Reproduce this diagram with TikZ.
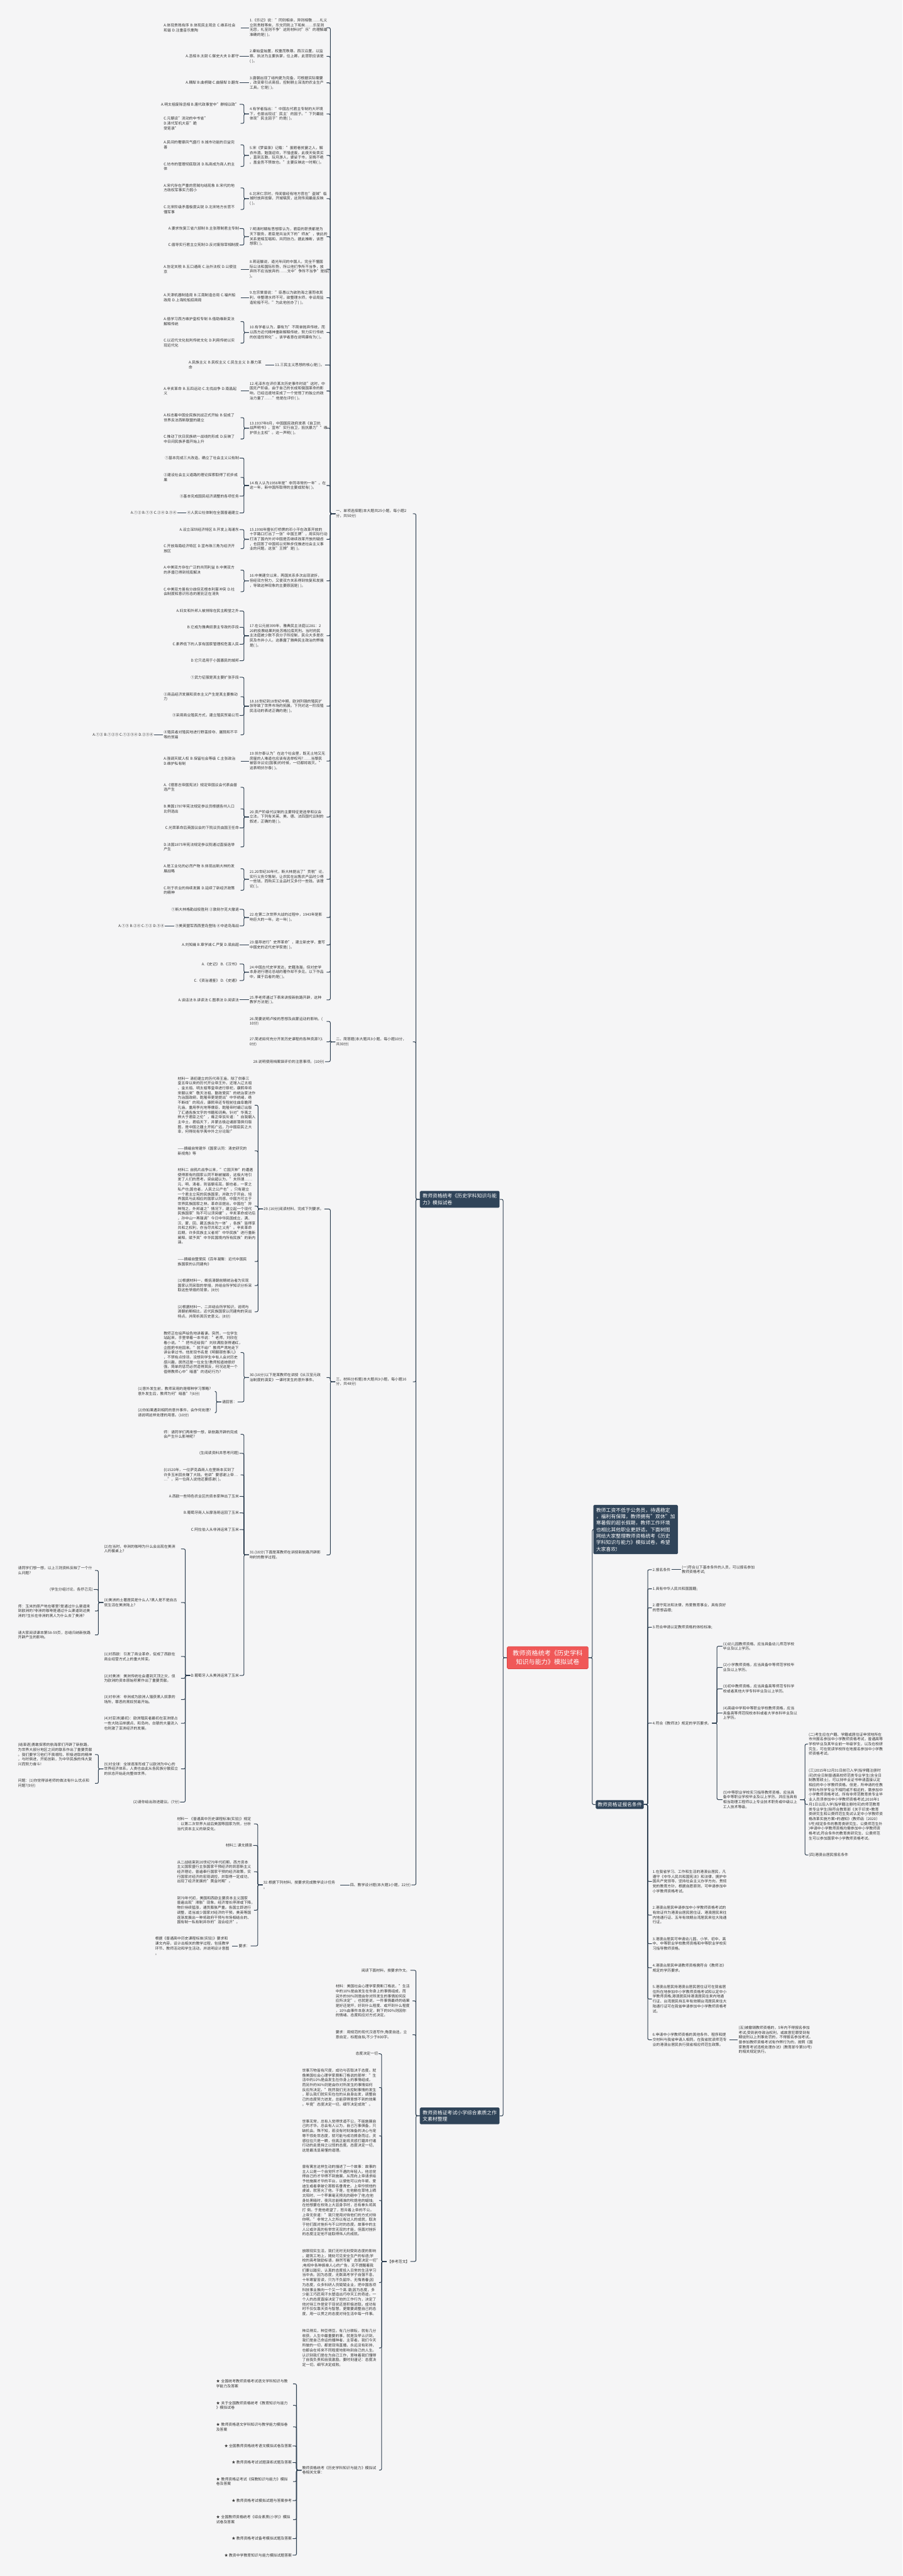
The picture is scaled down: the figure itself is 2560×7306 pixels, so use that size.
\documentclass[tikz,border=0pt]{standalone}
\usepackage{fontspec}
\setmainfont{Noto Sans CJK SC}
\definecolor{bgc}{RGB}{245,245,246}
\definecolor{lnc}{RGB}{44,62,80}
\definecolor{txc}{RGB}{51,51,51}
\definecolor{dkc}{RGB}{48,68,89}
\definecolor{rdc}{RGB}{240,88,88}
\definecolor{rdb}{RGB}{222,70,70}
\newcommand\fsA{\fontsize{10.5pt}{13.7pt}\selectfont}
\newcommand\fsB{\fontsize{14pt}{18.4pt}\selectfont}
\newcommand\fsC{\fontsize{18pt}{24pt}\selectfont}
\tikzset{
 txt/.style={font=\fsA, align=left, inner sep=2pt, text=txc},
 mw/.style={text width=216pt},
 dk/.style={font=\fsB, align=left, fill=dkc, text=white, rounded corners=3pt, inner xsep=8pt, inner ysep=8pt},
 rt/.style={font=\fsC, align=center, fill=rdc, draw=rdb, line width=1pt, text=white, rounded corners=3pt, inner xsep=16pt, inner ysep=11pt},
 ln/.style={draw=lnc, line width=1.8pt, rounded corners=4pt}
}
\newcommand\TW[4]{\node[txt,mw,anchor=west] (#1) at (#2,#3) {#4};}
\newcommand\TS[4]{\node[txt,anchor=west] (#1) at (#2,#3) {#4};}
\newcommand\TE[4]{\node[txt,anchor=east] (#1) at (#2,#3) {#4};}
\newcommand\LE[2]{\draw[ln] (#1.west) -- ++(-14,0) |- (#2.east);}
\newcommand\RE[2]{\draw[ln] (#1.east) -- ++(14,0) |- (#2.west);}
\newcommand\LK[2]{\draw[ln] (#1.west) -- ++(-11,0) |- (#2.east);}
\newcommand\RK[2]{\draw[ln] (#1.east) -- ++(11,0) |- (#2.west);}
\newcommand\SL[2]{\draw[ln] (#1.west) -- (#1.west -| #2.east);}
\newcommand\SR[2]{\draw[ln] (#1.east) -- (#1.east -| #2.west);}
\begin{document}
\begin{tikzpicture}[x=1pt,y=-1pt]
\fill[bgc] (0,0) rectangle (2560,7306);
\useasboundingbox (0,0) rectangle (2560,7306);
% main boxes
\node[rt] (root) at (1553.5,4701.5) {教师资格统考《历史学科\\知识与能力》模拟试卷};
\node[dk] (lishi) at (1304,3401.5) {教师资格统考《历史学科知识与能\\力》模拟试卷};
\node[dk] (zw) at (1304,6001) {教师资格证考试小学综合素质之作\\文素材整理};
\node[dk] (intro) at (1803,4338) {教师工资不低于公务员，待遇稳定\\，福利有保障，教师拥有"双休"加\\寒暑假的超长假期，教师工作环境\\也相比其他职业更舒适。下面树图\\网给大家整理教师资格统考《历史\\学科知识与能力》模拟试卷，希望\\大家喜欢!};
\node[dk,inner xsep=5pt,inner ysep=6pt] (bm) at (1758,5118) {教师资格证报名条件};
% section headers
\TW{h1}{951}{1457}{一、单项选择题(本大题共25小题，每小题2\\分，共50分)}
\TW{h2}{951}{2955}{二、简答题(本大题共3小题，每小题10分，\\共30分)}
\TW{h3}{951}{3919}{三、材料分析题(本大题共3小题，每小题16\\分，共48分)}
\TE{h4}{1167}{5346}{四、教学设计题(本大题1小题，22分)}
% questions 1-25
\TW{q1}{706}{78.5}{1.《乐记》说："同则相亲，异则相敬……礼义\\立则贵贱等矣，乐文同则上下和矣……乐至则\\无怨，礼至则不争"这则材料对"乐"的理解最\\准确的是( )。}
\TW{o1}{462}{78.5}{A.体现贵贱有序 B.体现民主观念 C.维系社会\\和谐 D.注重音乐熏陶}
\TW{q2}{706}{160}{2.秦始皇始置，权重而秩尊。西汉沿置，以监\\察、执法为主要执掌，位上卿。此官职应该是\\( )。}
\TE{o2}{680}{160}{A.丞相 B.太尉 C.御史大夫 D.郡守}
\TW{q3}{706}{235}{3.唐朝出现了结构更为完备，可根据实际需要\\，改变牵引点高低，控制耕土深浅的农业生产\\工具。它是( )。}
\TE{o3}{680}{235}{A.耦犁 B.曲柄锄 C.曲辕犁 D.翻车}
\TW{q4}{706}{323}{4.有学者指出："中国古代君主专制的大环境\\下，也曾出现过'民主'的因子。"下列最能\\体现"民主因子"的是( )。}
\TE{o4a}{680}{296}{A.明太祖废除丞相 B.唐代政事堂中"群相议政"}
\TW{o4b}{462}{350}{C.元朝设"流动的中书省" D.清代军机大臣"跪\\受笔录"}
\TW{q5}{706}{441}{5.宋《梦粱录》记载："虽陋巷贫窭之人，解\\衣市酒，勉强迎欢，不惜虚废。此夜天街卖买\\，直到五鼓，玩月游人，婆娑于市，至晚不绝\\。盖金吾不禁故也。"主要反映这一时期( )。}
\TW{o5a}{462}{411}{A.民间的奢靡风气盛行 B.城市功能的日益完\\善}
\TW{o5b}{462}{472}{C.坊市的管理彻底取消 D.私商成为商人的主\\体}
\TW{q6}{706}{563.5}{6.北宋仁宗时，传闻曾经有地方官在"盗贼"临\\城时放弃抵御，开城犒赏，这则传闻最能反映\\( )。}
\TW{o6a}{462}{533}{A.宋代存在严重的官贼勾结现象 B.宋代的地\\方政权军事实力弱小}
\TW{o6b}{462}{594}{C.北宋阶级矛盾极度尖锐 D.北宋地方长官不\\懂军事}
\TW{q7}{706}{671.5}{7.明清时期有思想家认为，君臣的职责都是为\\天下服务，君臣是共治天下的"师友"，彼此的\\关系是相互唱和、共同协力。据此推断，该思\\想家( )。}
\TE{o7a}{680}{648}{A.要求恢复三省六部制 B.主张限制君主专制}
\TE{o7b}{680}{695}{C.倡导实行君主立宪制 D.反对废除宰相制度}
\TW{q8}{706}{763.5}{8.蒋廷黻说，道光年间的中国人，完全不懂国\\际公法和国际形势，所以他们争所不当争，放\\弃所不应当放弃的……文中"争所不当争"是指(\\ )。}
\TW{o8}{462}{763.5}{A.协定关税 B.五口通商 C.治外法权 D.公使驻\\京}
\TW{q9}{706}{844.5}{9.左宗棠曾说："臣愚以为欲防海之害而收其\\利，非整理水师不可，欲整理水师，非设局监\\造轮船不可。"为此他创办了( )。}
\TW{o9}{462}{844.5}{A.天津机器制造局 B.江南制造总局 C.福州船\\政局 D.上海轮船招商局}
\TW{q10}{706}{943}{10.有学者认为，康有为"不简单抛弃传统，而\\以西方近代精神重新解释传统，努力实行传统\\的创造性转化"。该学者意在说明康有为( )。}
\TW{o10a}{462}{912}{A.借学习西方维护皇权专制 B.借助维新变法\\解释传统}
\TW{o10b}{462}{973}{C.以近代文化批判传统文化 D.利用传统以实\\现近代化}
\TE{q11}{922}{1035}{11.三民主义思想的核心是( )。}
\TW{o11}{533}{1035}{A.民族主义 B.民权主义 C.民生主义 D.暴力革\\命}
\TW{q12}{706}{1109}{12.毛泽东在评价某次历史事件时说"这时，中\\国无产阶级，由于自己的长成和俄国革命的影\\响，已经迅速地变成了一个觉悟了的独立的政\\治力量了……"他是在评价( )。}
\TW{o12}{462}{1109}{A.辛亥革命 B.五四运动 C.北伐战争 D.南昌起\\义}
\TW{q13}{706}{1214.5}{13.1937年8月，中国国民政府发表《自卫抗\\战声明书》，宣布"实行自卫，抵抗暴力""维\\护领土主权"。这一声明( )。}
\TW{o13a}{462}{1184.5}{A.标志着中国全民族抗战正式开始 B.促成了\\世界反法西斯联盟的建立}
\TW{o13b}{462}{1245}{C.推动了抗日民族统一战线的形成 D.反映了\\中日间民族矛盾开始上升}
\TW{q14}{706}{1377}{14.有人认为1956年是"非同寻常的一年"。在\\这一年，新中国所取得的主要成就有( )。}
\TE{o14a}{680}{1299}{①基本完成三大改造，确立了社会主义公有制}
\TW{o14b}{462}{1354}{②建设社会主义道路的理论探索取得了初步成\\果}
\TE{o14c}{680}{1407}{③基本完成国民经济调整的各项任务}
\TE{o14d}{680}{1455}{④人民公社体制在全国普遍建立}
\TE{o14s}{503}{1455}{A.①② B.①③ C.②④ D.③④}
\TW{q15}{706}{1529.5}{15.1990年擅长打桥牌的邓小平在改革开放的\\十字路口打出了一张"中国王牌"，用实际行动\\打消了国内外对中国是否继续改革开放的疑虑\\，也回答了中国将以何种步伐推进社会主义事\\业的问题。这张"王牌"是( )。}
\TE{o15a}{680}{1502}{A.设立深圳经济特区 B.开发上海浦东}
\TW{o15b}{462}{1556}{C.开放海南经济特区 D.宣布珠三角为经济开\\放区}
\TW{q16}{706}{1647.5}{16.中美建交以来，两国关系多次出现波折，\\但经双方努力，又使双方关系得到恢复和发展\\，导致这种现象的主要原因是( )。}
\TW{o16a}{462}{1617}{A.中美双方存在广泛的共同利益 B.中美双方\\的矛盾已得到彻底解决}
\TW{o16b}{462}{1678}{C.中美双方虽有分歧但无根本利害冲突 D.社\\会制度和意识形态的差别正在消失}
\TW{q17}{706}{1803}{17.在公元前399年，雅典民主法庭以281：2\\20的投票结果判处苏格拉底死刑。当时的民\\主法庭被少数不良分子所控制，民众大多是农\\民及市井小人。这暴露了雅典民主政治的弊端\\是( )。}
\TE{o17a}{680}{1733}{A.妇女和外邦人被排除在民主殿堂之外}
\TE{o17b}{680}{1779}{B.它成为雅典奴隶主专政的手段}
\TE{o17c}{680}{1827}{C.素养低下的人享有国家管理权危害人民}
\TE{o17d}{680}{1874}{D.它只适用于小国寡民的城邦}
\TW{q18}{706}{2003}{18.16世纪到18世纪中期，欧洲列强的殖民扩\\张导致了世界市场的拓展。下列对这一阶段殖\\民活动的表述正确的是( )。}
\TE{o18a}{680}{1921}{①武力征服是其主要扩张手段}
\TW{o18b}{462}{1976}{②商品经济发展和资本主义产生是其主要推动\\力}
\TE{o18c}{680}{2029}{③采用商业殖民方式，建立殖民贸易公司}
\TW{o18d}{462}{2084}{④殖民者对殖民地进行野蛮掠夺、屠戮和不平\\等的贸易}
\TE{o18s}{437}{2084}{A.①② B.①②③ C.①②③④ D.②③④}
\TW{q19}{706}{2158.5}{19.伏尔泰认为"在这个社会里，既无土地又无\\房屋的人难道也应该有选举权吗?……当黎民\\被容许议论(国事)的时候，一切都将毁灭。"\\这表明伏尔泰( )。}
\TW{o19}{462}{2158.5}{A.强调天赋人权 B.保留社会等级 C.主张政治\\D.维护私有制}
\TW{q20}{706}{2317}{20.资产阶级代议制的主要特征是选举和议会\\立法。下列有关英、美、德、法四国代议制的\\叙述，正确的是( )。}
\TW{o20a}{462}{2233}{A.《德意志帝国宪法》规定帝国议会代表由普\\选产生}
\TW{o20b}{462}{2294}{B.美国1787年宪法规定参议员根据各州人口\\比例选出}
\TE{o20c}{680}{2348}{C.光荣革命后英国议会的下院议员由国王任命}
\TW{o20d}{462}{2402}{D.法国1875年宪法规定参议院通过直接选举\\产生}
\TW{q21}{706}{2494}{21.20世纪30年代，斯大林提出了"贡税"论，\\实行义务交售制，让农民在出售农产品时少得\\一些钱，而购买工业品时又多付一些钱。该理\\论( )。}
\TW{o21a}{462}{2464}{A.是工业化的必然产物 B.体现出斯大林的发\\展战略}
\TW{o21b}{462}{2525}{C.利于农业的持续发展 D.延续了新经济政策\\的精神}
\TW{q22}{706}{2602}{22.在第二次世界大战的过程中，1943年是影\\响巨大的一年。这一年( )。}
\TE{o22a}{680}{2579}{①斯大林格勒战役胜利 ②敦刻尔克大撤退}
\TE{o22b}{680}{2626}{③美英盟军西西里岛登陆 ④中途岛海战}
\TE{o22s}{468}{2626}{A.①③ B.②④ C.①② D.③④}
\TW{q23}{706}{2680}{23.倡导进行"史界革命"，建立新史学，重写\\中国史的近代史学家是( )。}
\TE{o23}{680}{2680}{A.刘知幾 B.章学诚 C.严复 D.梁启超}
\TW{q24}{706}{2757.5}{24.中国古代史学发达，史籍浩瀚，但对史学\\本身进行理论总结的著作却不多见。以下作品\\中，属于后者的是( )。}
\TE{o24a}{680}{2734}{A.《史记》 B.《汉书》}
\TE{o24b}{680}{2781}{C.《资治通鉴》 D.《史通》}
\TW{q25}{706}{2836}{25.李老师通过下表来讲授新航路开辟，这种\\教学方法是( )。}
\TE{o25}{680}{2836}{A.谈话法 B.讲读法 C.图表法 D.阅读法}
% section 2
\TW{q26}{706}{2897}{26.简要说明卢梭的思想及启蒙运动的影响。(\\10分)}
\TW{q27}{706}{2955}{27.简述如何充分开发历史课程的各种资源?(1\\0分)}
\TE{q28}{922}{3011}{28.说明使用档案袋评价的注意事项。(10分)}
% section 3
\TE{q29}{920}{3429}{29.(16分)阅读材料，完成下列要求。}
\TW{p29a}{502}{3134.5}{材料一 清初建立的历代帝王庙，除了供奉三\\皇五帝以来的历代开业帝王外，还增入辽太祖\\、金太祖、明太祖等皇帝进行祭祀，康熙帝将\\宋朝以来"敬天法祖、勤政爱民"的统治家法作\\为治国政纲，乾隆帝更是提出"中华统绪，绝\\不断线"的观点，康熙帝还专程前往曲阜瞻拜\\孔庙，重用李光地等儒臣，乾隆帝时编订出版\\了汇通各族文字的书籍和词典。针对"华夷之\\辨大于君臣之伦"，雍正帝驳斥道："自我朝入\\主中土，君临天下，并蒙古极边诸部落俱归版\\图，是中国之疆土开拓广远，乃中国臣民之大\\幸，何得尚有华夷中外之分论哉!"}
\TW{p29b}{502}{3264}{——摘编自常建华《国家认同：清史研究的\\新视角》等}
\TW{p29c}{502}{3421}{材料二 自鸦片战争以来，"亡国灭种"的遭遇\\使得原有的国家认同不断被摧毁，这极大地引\\发了人们的思考。梁启超认为，"夫所谓……\\元、明、清者，则皆朝名耳。朝也者，一家之\\私产也;国也者，人民之公产也"，只有建立\\一个君主立宪的民族国家，并致力于开启、培\\养国民与此相应的国家认同感，中国方可立于\\世界民族国家之林。革命派提出，中国在"异\\种残之，外邦逼之"情况下，建立起一个现代\\民族国家"殆不可以须臾缓"。辛亥革命成功后\\，孙中山一再强调"今日中华民国成立，满、\\汉、蒙、回、藏五族合为一体"，各族"皆得享\\共和之权利，亦当尽共和之义务"。辛亥革命\\后期，许多民族主义者将"中华民族"进行重新\\阐释，赋予其"中华民国境内所有民族"的新内\\涵。}
\TW{p29d}{502}{3578}{——摘编自暨爱民《百年凝聚：近代中国民\\族国家的认同建构》}
\TW{p29e}{502}{3646}{(1)根据材料一，概括清朝前期统治者为实现\\国家认同采取的举措，并结合所学知识分析采\\取这些举措的背景。(8分)}
\TW{p29f}{502}{3720.5}{(2)根据材料一、二并结合所学知识，说明与\\清朝前期相比，近代民族国家认同建构的突出\\特点，并简析其历史意义。(8分)}
\TW{q30}{706}{3907}{30.(16分)以下是某教师在讲授《从汉至元政\\治制度的演变》一课时发生的意外事件。}
\TW{p30a}{462}{3836}{教师正在绘声绘色地讲着课。突然，一位学生\\站起来，手里举着一本书说："老师，刘欣在\\看小说。""把书还给我!"刘欣满脸涨得通红，\\企图把书抢回来。"就不给!"教师严肃地走下\\讲台拿过书。他发现书名是《明朝那些事儿》\\，不禁有点惊讶。没想到学生中有人会对历史\\感兴趣，居然还是一位女生!教师知道她很好\\强，简单的惩罚必然适得其反，何况这是一个\\值得教师心中"暗喜"的违纪行为?}
\TE{p30b}{674}{3976}{请回答：}
\TW{p30b1}{389}{3946}{(1)意外发生前，教师采用的是哪种学习策略?\\意外发生后，教师为何"暗喜"?(6分)}
\TW{p30b2}{389}{4007}{(2)你如果遇到相同的意外事件，会作何处理?\\请说明这样处理的用意。(10分)}
\TW{q31}{706}{4410}{31.(16分)下面是某教师在讲授新航路开辟影\\响时的教学过程。}
\TW{p31a}{462}{4068}{师：请同学们再来想一想，新航路开辟的完成\\会产生什么影响呢?}
\TE{p31b}{680}{4122}{(生阅读资料并思考问题)}
\TW{p31c}{462}{4183}{(I)1520年，一位萨克森商人在里斯本买到了\\许多玉米回去赚了大钱。他讲"要感谢上帝…\\…"，另一位商人说他还要感谢( )。}
\TE{p31d}{680}{4244}{A.西欧一些特色农业区的资本家种出了玉米}
\TE{p31e}{680}{4291}{B.葡萄牙商人从摩洛哥运回了玉米}
\TE{p31f}{680}{4338}{C.阿拉伯人从非洲运来了玉米}
\TE{p31g}{680}{4752}{D.葡萄牙人从美洲运来了玉米}
\TW{g1}{293}{4393}{(2)在当时，非洲的咖啡为什么会出现在美洲\\人的餐桌上?}
\TW{g2}{293}{4545}{(3)美洲的土著居民是什么人?黑人是不是自古\\就生活在美洲陆上?}
\TW{g2a}{49}{4454}{请同学们想一想，以上三则资料反映了一个什\\么问题?}
\TE{g2b}{266}{4508}{(学生分组讨论，各抒己见)}
\TW{g2c}{49}{4569}{师：玉米的原产地在哪里?是通过什么渠道来\\到欧洲的?非洲的咖啡是通过什么渠道到达美\\洲的?生长在非洲的黑人为什么去了美洲?}
\TW{g2d}{49}{4637}{请大家阅读课本第58-59页，总结归纳新航路\\开辟产生的影响。}
\TW{g3}{293}{4698}{(1)对西欧：引发了商业革命，促成了西欧在\\商业经营方式上的重大转变。}
\TW{g4}{293}{4760}{(2)对美洲：美洲传统社会遭到灭顶之灾，但\\为欧洲的资本原始积累作出了重要贡献。}
\TW{g5}{293}{4820}{(3)对非洲：非洲成为欧洲人猎获黑人奴隶的\\场所，罪恶的黑奴贸易开始。}
\TW{g6}{293}{4887.5}{(4)对亚洲(最初)：欧洲殖民者最初在亚洲侵占\\一些大陆沿岸据点、和岛屿，白银的大量流入\\也刺激了亚洲经济的发展。}
\TW{g7}{293}{5017}{(5)对全球：全球逐渐形成了以欧洲为中心的\\世界经济体系。人类也由此从各民族分散孤立\\的状态开始走向整体世界。}
\TW{g7a}{49}{4976}{(结束语)勇敢探索的航海家们开辟了新航路，\\为世界大部分地区之间的联系作出了重要贡献\\。我们要学习他们不畏艰险、积极进取的精神\\，与时俱进，开拓创新，为中华民族的伟大复\\兴而努力奋斗!}
\TW{g7b}{49}{5058}{问题：(1)你觉得该老师的做法有什么优点和\\问题?(9分)}
\TE{g8}{511}{5111}{(2)请你给出改进建议。(7分)}
% section 4
\TW{q32}{745}{5346}{32.根据下列材料，按要求完成教学设计任务\\。}
\TW{p32a}{500}{5173}{材料一 《普通高中历史课程标准(实验)》规定\\：以第二次世界大战后美国等国家为例，分析\\当代资本主义的新变化。}
\TE{p32b}{718}{5234}{材料二 课文摘录}
\TW{p32c}{500}{5308.5}{从二战结束到20世纪70年代初期，西方资本\\主义国家盛行主张国家干预经济的凯恩斯主义\\经济理论，普遍奉行国家干预的经济政策，实\\行国家对经济的宏观调控，并取得一定成功，\\出现了经济发展的"黄金时期"。}
\TW{p32d}{500}{5417.5}{到70年代初，美国和西欧主要资本主义国家\\普遍出现"滞胀"现象，经济增长停滞或下降，\\物价持续猛涨，通货膨胀严重。各国立即进行\\调整，适当减少国家对经济的干预。美英等国\\逐渐发展出一种将政府干预与市场相结合的、\\国有制一私有制并存的"混合经济"。}
\TE{p32e}{711}{5519}{要求：}
\TW{p32f}{438}{5519}{根据《普通高中历史课程标准(实验)》要求和\\课文内容，设计出相关的教学过程，包括教学\\环节、教师活动和学生活动，并说明设计意图\\。}
% composition branch
\TE{za}{1164}{5588}{阅读下面材料，按要求作文。}
\TW{zb}{950}{5675}{材料：美国社会心理学家费斯汀格说，"生活\\中的10\%是由发生在你身上的事情组成，而\\另外的90\%则是由你对所发生的事情如何反\\应所决定"。也就是说，一件事情最终的结果\\是好还是坏，好到什么程度、或坏到什么程度\\，10\%由事件本身决定，剩下的90\%则因你\\的情绪、态度和应对方式决定。}
\TW{zc}{950}{5771}{要求：用规范的现代汉语写作;角度自选，立\\意自定，标题自拟;不少于800字。}
\TE{zd}{1164}{6414}{【参考范文】}
\TE{zd1}{1074}{5825}{态度决定一切}
\TW{zd2}{855}{5920.5}{世事万物皆有尺度，成功与否取决于态度。就\\像美国社会心理学家费斯汀格说的那样："生\\活中的10\%是由发生在你身上的事情组成，\\而另外的90\%则是由你对所发生的事情如何\\反应所决定。"既然我们无法控制事情的发生\\，那么我们就实实在在的从自身出发，调整自\\己的态度努力进发，总能获得意想不到的效果\\。毕竟"态度决定一切，细节决定成败"。}
\TW{zd3}{855}{6057.5}{世事无常，总有人觉得世道不公，不能施展自\\己的才华。总会有人认为，自己万事俱备，只\\缺机会。殊不知，若没有时刻准备的决心与宠\\辱不惊处世态度，就可能与成功擦身而过。灵\\感往往只是一瞬，但真正能将灵感打磨并付诸\\行动的走是持之以恒的态度。态度决定一切，\\这是最浅显易懂的道理。}
\TW{zd4}{855}{6241}{曾有寓言这样生动的描述了一个故事：故事的\\主人公是一个自觉怀才不遇的年轻人。他总觉\\得自己的才华得不到施展，从而向上帝请求给\\予他施展才华的平台，以便他可以向牛顿、爱\\迪生或者拿破仑那般名垂青史。上帝怜悯他的\\虔诚，就答允了他。于是，在他躺在草地上晒\\太阳时，一个苹果毫无预兆的砸中了他;在他\\身处黑暗时，夜风总能精准的吹熄他的蜡烛;\\在他想要在校场上大显身手时，总有拳头将其\\打 倒。于是他绝望了，怒斥着上帝的不公。\\上帝无奈道："我只是用对待他们的方式对待\\你啊。"非常之人之所以有过人的成就，取决\\于他们面对挫折与不公时的态度。故事中的主\\人公或许真的有举世无双的才能，但面对挫折\\的态度注定他不能取得伟人的成就。}
\TW{zd5}{855}{6473.5}{放眼现实生活，我们无时无刻受到态度的影响\\。建筑工地上，随处可见安全生产的标语;学\\校的高考鼓励标语，赫然写着"态度决定一切"\\;电视中各种振奋人心的广告，无不提醒着我\\们要以踏实、认真的态度投入日常的生活学习\\当中去。因为态度，无数高考学子自强不息，\\十年寒窗苦读，只为不负韶华、无悔青春;因\\为态度，众多科研人员兢兢业业，把中国各项\\科技事业推向一个又一个高 潮;因为态度，多\\少能工巧匠用汗水塑造出巧夺天工的奇迹。一\\个人的态度直接决定了他的工作行为，决定了\\他对待工作是安于现状还是积极进取。成功有\\时不仅仅靠天资与智慧，更需要调整自己的态\\度，用一以贯之的态度对待生活中每一件事。}
\TW{zd6}{855}{6659}{种瓜得瓜，种豆得豆。有几分耕耘，就有几分\\收获。人生中最重要的事，就是及早认识到，\\我们是自己命运的播种者、主宰者。我们今天\\所做的一切，都是现场直播，永远没有彩排，\\也都会在将来不同程度地影响到自己的人生。\\认识到我们是在为自己工作，意味着我们懂得\\了自我负责和自我激励。要时刻谨记：态度决\\定一切，细节决定成败。}
\TW{ze}{855}{7005.5}{教师资格统考《历史学科知识与能力》模拟试\\卷相关文章：}
\TW{s1}{611}{6761}{★ 全国统考教师资格考试语文学科知识与教\\学能力及答案}
\TW{s2}{611}{6822}{★ 关于全国教师资格统考《教育知识与能力\\》模拟试卷}
\TW{s3}{611}{6883}{★ 教师资格语文学科知识与教学能力模拟卷\\及答案}
\TE{s4}{830}{6937}{★ 全国教师资格统考语文模拟试卷及答案}
\TE{s5}{830}{6984}{★ 教师资格考试试题演练试题及答案}
\TW{s6}{611}{7038}{★ 教师资格证考试《保教知识与能力》模拟\\卷及答案}
\TE{s7}{830}{7092}{★ 教师资格考试模拟试题与答案参考}
\TW{s8}{611}{7146}{★ 全国教师资格统考《综合素质(小学)》模拟\\试卷及答案}
\TE{s9}{830}{7200}{★ 教师资格考试备考模拟试题及答案}
\TE{s10}{830}{7247}{★ 教资中学教育知识与能力模拟试题答案}
% right branch
\TS{r1}{1849}{4452}{2.报名条件}
\TW{r1a}{1932}{4452}{(一)符合以下基本条件的人员，可以报名参加\\教师资格考试;}
\TS{r2}{1849}{4506}{1.具有中华人民共和国国籍;}
\TW{r3}{1849}{4560}{2.遵守宪法和法律，热爱教育事业，具有良好\\的思想品德;}
\TS{r4}{1849}{4615}{3.符合申请认定教师资格的体检标准;}
\TS{r5}{1849}{4887}{4.符合《教师法》规定的学历要求。}
\TW{r5a}{2049}{4669}{(1)幼儿园教师资格，应当具备幼儿师范学校\\毕业及以上学历。}
\TW{r5b}{2049}{4729}{(2)小学教师资格，应当具备中等师范学校毕\\业及以上学历。}
\TW{r5c}{2049}{4790}{(3)初中教师资格，应当具备高等师范专科学\\校或者其他大学专科毕业及以上学历。}
\TW{r5d}{2049}{4858.5}{(4)高级中学和中等职业学校教师资格，应当\\具备高等师范院校本科或者大学本科毕业及以\\上学历。}
\TW{r5e}{2049}{5104}{(5)中等职业学校实习指导教师资格，应当具\\备中等职业学校毕业及以上学历，并应当具有\\相当助理工程师以上专业技术职务或中级以上\\工人技术等级。}
\TW{r5e1}{2292}{4946.5}{(二)考生应在户籍、学籍或居住证申领地所在\\市州报名参加中小学教师资格考试，普通高等\\学校毕业及其毕业前一年级学生，以及在校研\\究生，可在就读学校所在地报名参加中小学教\\师资格考试。}
\TW{r5e2}{2292}{5117.5}{(三)2015年12月31日前已入学(指学籍注册时\\间)的全日制普通高校师范类专业学生(含全日\\制教育硕士)，可以持毕业证书申请直接认定\\相应的中小学教师资格。但是，所申请的任教\\学科与所学专业不相同或不相近的，需参加中\\小学教师资格考试。所有非师范教育类专业毕\\业人员须参加中小学教师资格考试;2016年1\\月1日以后入学(指学籍注册时间)的师范教育\\类专业学生(除符合教育部《关于印发<教育\\类研究生和公费师范生免试认定中小学教师资\\格改革实施方案>的通知》(教师函〔2020〕\\5号)规定条件的教育类研究生、公费师范生外\\)申请中小学教师资格均需参加中小学教师资\\格考试;符合条件的教育类研究生、公费师范\\生可以参加国家中小学教师资格考试。}
\TS{r5e3}{2292}{5261}{(四)港澳台居民报名条件}
\TW{r6}{1849}{5336}{1.在我省学习、工作和生活的港澳台居民，凡\\遵守《中华人民共和国宪法》和法律，拥护中\\国共产党领导，坚持社会主义办学方向，贯彻\\党的教育方针，根据自愿原则，可申请参加中\\小学教师资格考试。}
\TW{r7}{1849}{5431.5}{2.港澳台居民申请参加中小学教师资格考试的\\有效证件为港澳台居民居住证、港澳居民来往\\内地通行证、五年有效期台湾居民来往大陆通\\行证。}
\TW{r8}{1849}{5512.5}{3.港澳台居民可申请幼儿园、小学、初中、高\\中、中等职业学校教师资格和中等职业学校实\\习指导教师资格。}
\TW{r9}{1849}{5581}{4.港澳台居民申请教师资格需符合《教师法》\\规定的学历要求。}
\TW{r10}{1849}{5669.5}{5.港澳台居民持港澳台居民居住证可在我省居\\住所在地参加中小学教师资格考试和认定中小\\学教师资格;港澳居民持港澳居民往来内地通\\行证、台湾居民持五年有效期台湾居民来往大\\陆通行证可在我省申请参加中小学教师资格考\\试。}
\TW{r11}{1849}{5785}{6.申请中小学教师资格的其他条件、程序和提\\交材料与我省申请人相同。在我省就读师范专\\业的港澳台居民执行我省相应师范生政策。}
\TW{r11a}{2093}{5785}{(五)被撤销教师资格的，5年内不得报名参加\\考试;受到剥夺政治权利，或故意犯罪受到有\\期徒刑以上刑事处罚的，不得报名参加考试。\\曾参加教师资格考试有作弊行为的，按照《国\\家教育考试违规处理办法》(教育部令第33号)\\的相关规定执行。}
% ===== connectors =====
\LK{root}{lishi} \LK{root}{zw} \RK{root}{intro} \RK{root}{bm}
\foreach \c in {h1,h2,h3,h4} {\LK{lishi}{\c}}
\foreach \c in {q1,q2,q3,q4,q5,q6,q7,q8,q9,q10,q11,q12,q13,q14,q15,q16,q17,q18,q19,q20,q21,q22,q23,q24,q25} {\LE{h1}{\c}}
\SL{q1}{o1} \SL{q2}{o2} \SL{q3}{o3} \SL{q8}{o8} \SL{q9}{o9} \SL{q11}{o11} \SL{q12}{o12} \SL{q19}{o19} \SL{q23}{o23} \SL{q25}{o25}
\LE{q4}{o4a} \LE{q4}{o4b} \LE{q5}{o5a} \LE{q5}{o5b} \LE{q6}{o6a} \LE{q6}{o6b}
\LE{q7}{o7a} \LE{q7}{o7b} \LE{q10}{o10a} \LE{q10}{o10b} \LE{q13}{o13a} \LE{q13}{o13b}
\foreach \c in {o14a,o14b,o14c,o14d} {\LE{q14}{\c}} \SL{o14d}{o14s}
\LE{q15}{o15a} \LE{q15}{o15b} \LE{q16}{o16a} \LE{q16}{o16b}
\foreach \c in {o17a,o17b,o17c,o17d} {\LE{q17}{\c}}
\foreach \c in {o18a,o18b,o18c,o18d} {\LE{q18}{\c}} \SL{o18d}{o18s}
\foreach \c in {o20a,o20b,o20c,o20d} {\LE{q20}{\c}}
\LE{q21}{o21a} \LE{q21}{o21b} \LE{q22}{o22a} \LE{q22}{o22b} \SL{o22b}{o22s}
\LE{q24}{o24a} \LE{q24}{o24b}
\foreach \c in {q26,q27,q28} {\LE{h2}{\c}}
\foreach \c in {q29,q30,q31} {\LE{h3}{\c}}
\foreach \c in {p29a,p29b,p29c,p29d,p29e,p29f} {\LE{q29}{\c}}
\LE{q30}{p30a} \LE{q30}{p30b} \LE{p30b}{p30b1} \LE{p30b}{p30b2}
\foreach \c in {p31a,p31b,p31c,p31d,p31e,p31f,p31g} {\LE{q31}{\c}}
\foreach \c in {g1,g2,g3,g4,g5,g6,g7,g8} {\LE{p31g}{\c}}
\foreach \c in {g2a,g2b,g2c,g2d} {\LE{g2}{\c}}
\LE{g7}{g7a} \LE{g7}{g7b}
\SL{h4}{q32}
\foreach \c in {p32a,p32b,p32c,p32d,p32e} {\LE{q32}{\c}}
\SL{p32e}{p32f}
\foreach \c in {za,zb,zc,zd} {\LK{zw}{\c}}
\foreach \c in {zd1,zd2,zd3,zd4,zd5,zd6,ze} {\LE{zd}{\c}}
\foreach \c in {s1,s2,s3,s4,s5,s6,s7,s8,s9,s10} {\LE{ze}{\c}}
\foreach \c in {r1,r2,r3,r4,r5,r6,r7,r8,r9,r10,r11} {\RK{bm}{\c}}
\SR{r1}{r1a} \SR{r11}{r11a}
\foreach \c in {r5a,r5b,r5c,r5d,r5e} {\RE{r5}{\c}}
\foreach \c in {r5e1,r5e2,r5e3} {\RE{r5e}{\c}}
\end{tikzpicture}
\end{document}
